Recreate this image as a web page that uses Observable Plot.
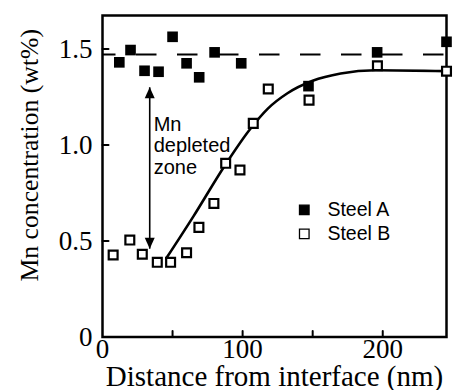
<!DOCTYPE html>
<html>
<head>
<meta charset="utf-8">
<script src="https://cdn.jsdelivr.net/npm/d3@7"></script>
<script src="https://cdn.jsdelivr.net/npm/@observablehq/plot@0.6"></script>
<style>
  html, body { margin: 0; padding: 0; background: #fff; }
  #chart { width: 455px; height: 390px; }
</style>
</head>
<body>
<div id="chart"></div>
<script>
// ---- data ----
const steelA_x = [12, 20, 30, 40, 50, 60, 69, 80, 99, 147, 196, 245.5];
const steelA_y = [1.431, 1.495, 1.387, 1.382, 1.564, 1.426, 1.353, 1.483, 1.426, 1.307, 1.483, 1.538];

const steelB_x = [7.6, 19.5, 28.4, 39.1, 48.6, 60, 68.8, 79.5, 87.9, 98.1, 107.6, 118.3, 147.4, 196.2, 245.5];
const steelB_y = [0.427, 0.505, 0.431, 0.389, 0.389, 0.439, 0.571, 0.696, 0.905, 0.870, 1.113, 1.292, 1.234, 1.413, 1.385];

const fit_x = [45.5, 65, 87, 105, 118, 132, 150, 170, 195, 245.5];
const fit_y = [0.41, 0.63, 0.89, 1.08, 1.19, 1.27, 1.335, 1.373, 1.39, 1.385];

const steelA_level = 1.472;

const xTickValues = [50, 100, 150, 200];
const xTickLabels = [0, 100, 200];
const yTickValues = [0.5, 1.0, 1.5];
const yTickLabels = [0, 0.5, 1.0, 1.5];

const seriesNames = ["Steel A", "Steel B"];
const xTitle = "Distance from interface (nm)";
const yTitle = "Mn concentration (wt%)";
const noteText = "Mn\ndepleted\nzone";

// annotation anchors (data units)
const arrowPos = {x: 33.7, y1: 1.301, y2: 0.46};
const notePos = {x: 36.5, y: 1.154};
const legendPos = {xs: 144, xt: 160.5, ys: [0.662, 0.537]};

// ---- tables ----
const A = steelA_x.map((x, i) => ({x, y: steelA_y[i]}));
const B = steelB_x.map((x, i) => ({x, y: steelB_y[i]}));
const fit = fit_x.map((x, i) => ({x, y: fit_y[i]}));
const legend = seriesNames.map((name, i) => ({name, xs: legendPos.xs, xt: legendPos.xt, y: legendPos.ys[i], filled: i === 0}));

const tickShape = {draw(context, l) { context.moveTo(0, 0); context.lineTo(0, -l); }};
const serif = "Liberation Serif, Times New Roman, serif";
const sans = "Liberation Sans, Arial, sans-serif";

const chart = Plot.plot({
  width: 455,
  height: 390,
  marginLeft: 102,
  marginRight: 9,
  marginTop: 15,
  marginBottom: 53.5,
  style: {fontFamily: serif, background: "white", color: "black"},
  x: {domain: [0, 245.5]},
  y: {domain: [0, 1.675]},
  marks: [
    Plot.ruleY([steelA_level], {stroke: "black", strokeWidth: 2, strokeDasharray: "20.5,20.5", strokeDashoffset: 7}),
    Plot.line(fit, {x: "x", y: "y", curve: "monotone-x", stroke: "black", strokeWidth: 2.6}),
    Plot.frame({stroke: "black", strokeWidth: 2.5}),
    Plot.vector(yTickValues, {y: d => d, frameAnchor: "left", length: 6, rotate: 90, anchor: "start", shape: tickShape, stroke: "black", strokeWidth: 2}),
    Plot.vector(xTickValues, {x: d => d, frameAnchor: "bottom", length: 6, rotate: 0, anchor: "start", shape: tickShape, stroke: "black", strokeWidth: 2}),
    Plot.axisY({ticks: yTickLabels, tickSize: 0, tickPadding: 10, fontSize: 27, label: null,
      tickFormat: d => d === 0 ? "0" : d.toFixed(1)}),
    Plot.axisX({ticks: xTickLabels, tickSize: 0, tickPadding: 2, fontSize: 27, label: null,
      tickFormat: d => String(d)}),
    Plot.dot(A, {x: "x", y: "y", symbol: "square", r: 6, fill: "black", stroke: "none"}),
    Plot.dot(B, {x: "x", y: "y", symbol: "square", r: 5, fill: "white", stroke: "black", strokeWidth: 2.2}),
    // double-headed arrow
    Plot.link([arrowPos], {x1: "x", y1: "y1", x2: "x", y2: "y2", stroke: "black", strokeWidth: 1.6}),
    Plot.vector([arrowPos], {x: "x", y: "y1", rotate: 0, length: 11, r: 5, anchor: "end", shape: "spike", fill: "black", stroke: "none"}),
    Plot.vector([arrowPos], {x: "x", y: "y2", rotate: 180, length: 11, r: 5, anchor: "end", shape: "spike", fill: "black", stroke: "none"}),
    Plot.text([notePos], {x: "x", y: "y", text: () => noteText, textAnchor: "start", lineAnchor: "top", lineHeight: 1.075, fontSize: 20, fontFamily: sans}),
    // legend
    Plot.dot(legend, {x: "xs", y: "y", symbol: "square", r: 5.4, fill: d => d.filled ? "black" : "white", stroke: "black", strokeWidth: 1.3}),
    Plot.text(legend, {x: "xt", y: "y", text: "name", textAnchor: "start", lineAnchor: "middle", fontSize: 19.5, fontFamily: sans}),
    // axis titles
    Plot.text([xTitle], {frameAnchor: "bottom", textAnchor: "middle", dy: 48.5, lineAnchor: "bottom", fontSize: 29, fontFamily: serif}),
    Plot.text([yTitle], {frameAnchor: "left", textAnchor: "middle", rotate: -90, dx: -65, dy: -21, lineAnchor: "bottom", fontSize: 25.7, fontFamily: serif})
  ]
});
document.getElementById("chart").appendChild(chart);
</script>
</body>
</html>
